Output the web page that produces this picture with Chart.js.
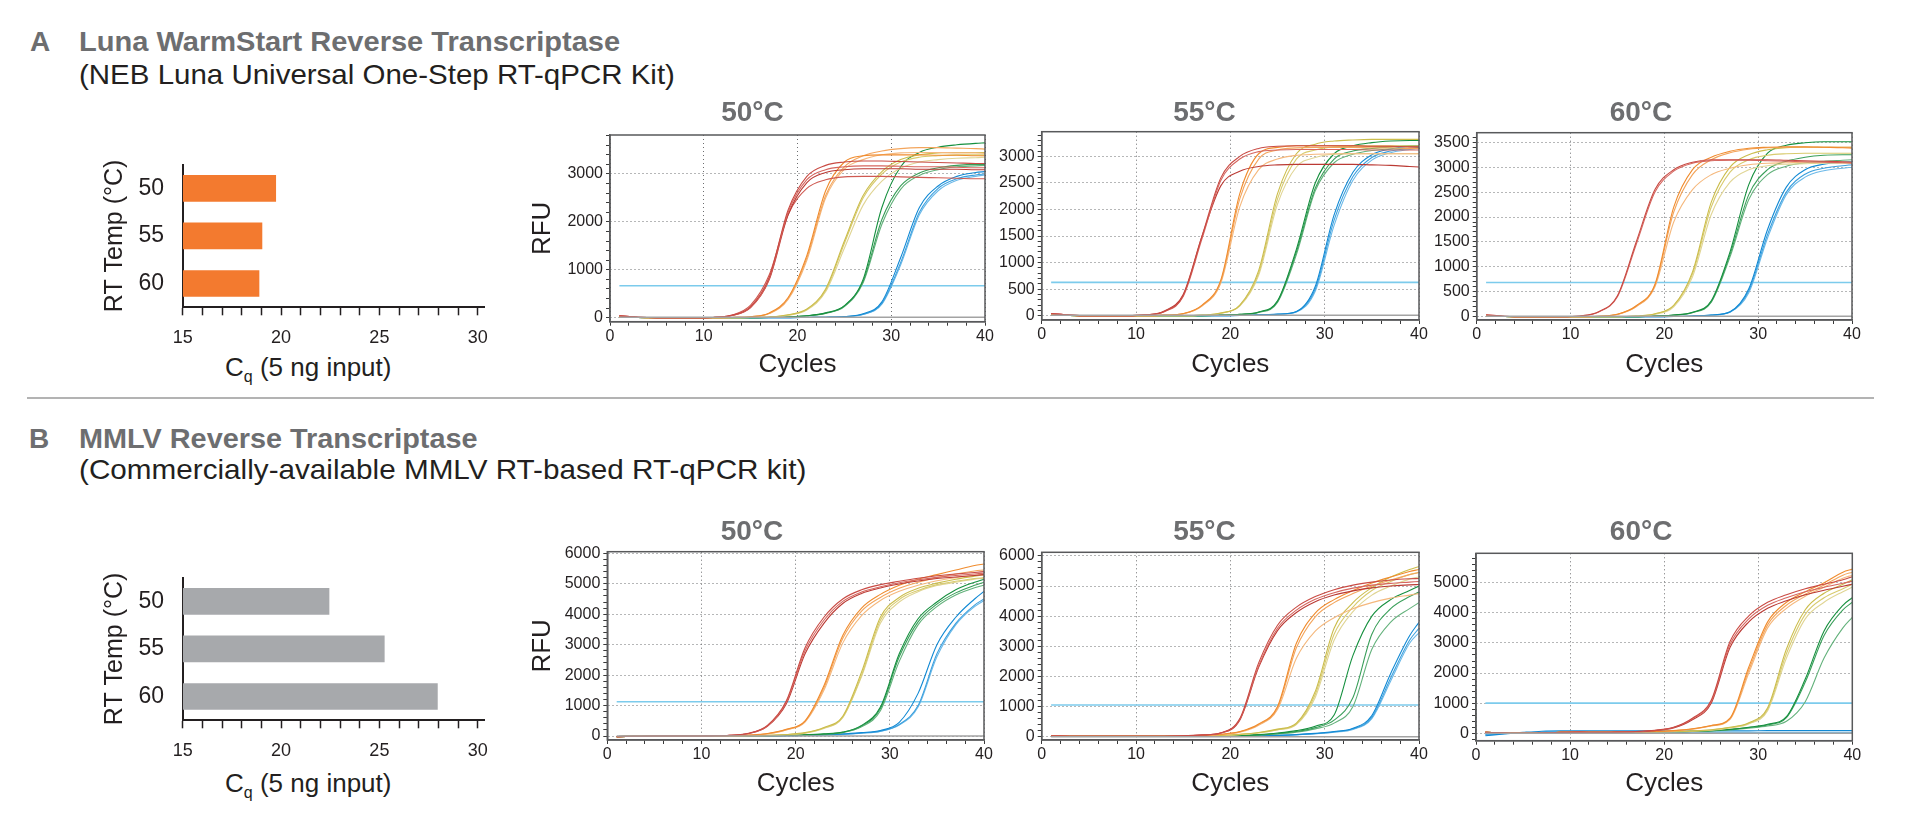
<!DOCTYPE html>
<html>
<head>
<meta charset="utf-8">
<script src="https://cdn.jsdelivr.net/npm/chart.js@4.4.1/dist/chart.umd.min.js"></script>
<style>
body { margin: 0; background: #fff; width: 1913px; height: 825px; position: relative; overflow: hidden;
       font-family: "Liberation Sans", Arial, Helvetica, sans-serif; color: #231f20; }
canvas { position: absolute; }
.hd { position: absolute; line-height: 1; white-space: nowrap; transform-origin: 0 0; font-size: 28px; }
.h1 { font-weight: bold; color: #6d6e70; }
.h2 { color: #231f20; }
.cq { position: absolute; font-size: 26px; line-height: 1; white-space: nowrap; color: #231f20; }
.cq .sub { font-size: 16px; position: relative; top: 6px; }
.rule { position: absolute; left: 27px; top: 397.3px; width: 1847px; height: 2.2px; background: #b3b3b3; }
</style>
</head>
<body>
<div class="hd h1" style="left:30px;top:27.8px">A</div>
<div class="hd h1" style="left:79px;top:27.8px;transform:scaleX(1.037)">Luna WarmStart Reverse Transcriptase</div>
<div class="hd h2" style="left:79px;top:61.3px;transform:scaleX(1.053)">(NEB Luna Universal One-Step RT-qPCR Kit)</div>
<div class="rule"></div>
<div class="hd h1" style="left:29px;top:424.6px">B</div>
<div class="hd h1" style="left:79px;top:424.6px;transform:scaleX(1.03)">MMLV Reverse Transcriptase</div>
<div class="hd h2" style="left:79px;top:456.3px;transform:scaleX(1.06)">(Commercially-available MMLV RT-based RT-qPCR kit)</div>
<div class="cq" style="left:225px;top:353.5px">C<span class="sub">q</span> (5 ng input)</div>
<div class="cq" style="left:225px;top:770px">C<span class="sub">q</span> (5 ng input)</div>

<script>
// ---- data ----
const RT_TEMPS = ['50', '55', '60'];
const CQ_LUNA = [19.73, 19.03, 18.88];
const CQ_MMLV = [22.44, 25.25, 27.95];
const PANEL_TITLES = ['50°C', '55°C', '60°C'];

// every amplification curve is sampled at these cycles
const CYCLES = [1, 3, 5, 7, 9, 11, 13, 15, 17, 19, 21, 23, 25, 27, 29, 31, 33, 35, 37, 39, 40];

const THRESH_A = [668, 628, 685];
const THRESH_B = [1125, 1054, 1000];
const NTC_A = [10, 10, 10];
const NTC_B = [0, 0, 0];

// A, 50°C
const A50_RED = [
    [40,10,0,0,0,5,50,230,850,2250,2950,3180,3250,3270,3270,3260,3250,3240,3230,3220,3220],
    [40,10,0,0,0,5,45,220,820,2200,2880,3090,3150,3170,3170,3160,3150,3150,3140,3130,3130],
    [40,10,0,0,0,5,45,210,800,2150,2820,3030,3090,3110,3110,3110,3100,3100,3100,3090,3090],
    [40,10,0,0,0,5,55,260,900,2150,2700,2880,2940,2950,2950,2940,2930,2920,2910,2900,2900]
];
const A50_ORANGE = [
    [20,5,0,0,0,0,5,20,100,420,1300,2650,3250,3380,3400,3400,3400,3390,3390,3380,3380],
    [20,5,0,0,0,0,5,20,90,400,1250,2550,3150,3380,3480,3530,3550,3550,3540,3530,3520],
    [20,5,0,0,0,0,5,18,85,380,1200,2500,3100,3300,3400,3440,3450,3450,3440,3440,3430]
];
const A50_YELLOW = [
    [20,5,0,0,0,0,0,5,15,60,180,600,1600,2550,3050,3300,3400,3440,3450,3450,3450],
    [20,5,0,0,0,0,0,5,15,55,170,570,1550,2500,3000,3250,3350,3380,3400,3400,3400],
    [20,5,0,0,0,0,0,5,15,50,160,540,1450,2350,2850,3120,3250,3300,3330,3340,3350]
];
const A50_GREEN = [
    [20,5,0,0,0,0,0,0,5,15,40,100,250,800,2300,3150,3450,3560,3610,3640,3650],
    [20,5,0,0,0,0,0,0,5,15,40,95,240,760,2050,2750,3020,3130,3180,3200,3200],
    [20,5,0,0,0,0,0,0,5,12,35,90,230,730,1950,2680,2970,3090,3150,3170,3180]
];
const A50_BLUE = [
    [20,5,0,0,0,0,0,0,0,0,5,10,25,80,330,1250,2300,2750,2950,3030,3050],
    [20,5,0,0,0,0,0,0,0,0,5,10,22,70,300,1150,2200,2700,2900,2980,3000],
    [20,5,0,0,0,0,0,0,0,0,5,10,20,65,280,1100,2150,2650,2870,2950,2980]
];

// A, 55°C
const A55_RED = [
    [40,10,0,0,0,15,80,380,1500,2600,3000,3150,3190,3200,3200,3200,3200,3190,3190,3180,3180],
    [40,10,0,0,0,15,75,360,1450,2550,2950,3090,3120,3130,3130,3130,3130,3120,3120,3120,3120],
    [40,10,0,0,0,15,90,400,1500,2450,2720,2810,2840,2850,2850,2850,2850,2840,2830,2810,2800]
];
const A55_ORANGE = [
    [20,5,0,0,0,0,10,40,200,680,2300,3050,3170,3200,3200,3200,3200,3190,3190,3180,3180],
    [20,5,0,0,0,0,10,38,190,650,2200,2950,3120,3160,3170,3170,3170,3160,3160,3150,3150],
    [20,5,0,0,0,0,10,35,180,620,2050,2750,2950,3020,3040,3050,3050,3050,3050,3050,3050]
];
const A55_YELLOW = [
    [20,5,0,0,0,0,0,0,10,50,200,850,2300,3050,3230,3290,3310,3320,3320,3320,3320],
    [20,5,0,0,0,0,0,0,10,48,190,800,2200,2950,3120,3180,3190,3200,3200,3200,3200],
    [20,5,0,0,0,0,0,0,10,45,180,760,2100,2800,2980,3040,3050,3050,3050,3050,3050]
];
const A55_GREEN = [
    [20,5,0,0,0,0,0,0,0,10,25,70,280,1250,2500,3050,3200,3260,3290,3300,3300],
    [20,5,0,0,0,0,0,0,0,10,25,65,265,1200,2400,2950,3100,3150,3180,3200,3200],
    [20,5,0,0,0,0,0,0,0,10,22,60,250,1150,2350,2880,3040,3110,3140,3150,3150]
];
const A55_BLUE = [
    [20,5,0,0,0,0,0,0,0,0,5,15,30,80,550,1900,2700,3030,3140,3190,3200],
    [20,5,0,0,0,0,0,0,0,0,5,15,28,75,500,1800,2620,2980,3100,3150,3170],
    [20,5,0,0,0,0,0,0,0,0,5,12,25,70,460,1700,2550,2930,3070,3130,3150]
];

// A, 60°C
const A60_RED = [
    [40,10,0,0,0,15,100,420,1500,2550,2950,3100,3150,3150,3150,3150,3140,3130,3120,3110,3100],
    [40,10,0,0,0,15,95,400,1450,2500,2920,3080,3130,3140,3140,3130,3120,3110,3100,3090,3080]
];
const A60_ORANGE = [
    [20,5,0,0,0,0,10,50,220,650,2200,2950,3200,3320,3380,3400,3410,3410,3400,3390,3380],
    [20,5,0,0,0,0,10,48,210,630,2100,2850,3150,3290,3360,3390,3400,3400,3400,3400,3400],
    [20,5,0,0,0,0,10,45,200,600,1900,2550,2850,2980,3050,3080,3090,3100,3100,3100,3100]
];
const A60_YELLOW = [
    [20,5,0,0,0,0,0,0,15,60,230,900,2300,3000,3250,3350,3390,3400,3400,3400,3400],
    [20,5,0,0,0,0,0,0,15,55,220,860,2200,2900,3150,3240,3270,3280,3280,3280,3280],
    [20,5,0,0,0,0,0,0,15,50,200,800,2050,2700,2950,3030,3060,3070,3080,3080,3080]
];
const A60_GREEN = [
    [20,5,0,0,0,0,0,0,0,15,35,90,320,1300,2650,3280,3440,3490,3510,3510,3510],
    [20,5,0,0,0,0,0,0,0,15,33,85,300,1250,2450,2950,3120,3200,3240,3250,3250],
    [20,5,0,0,0,0,0,0,0,12,30,80,290,1200,2350,2850,3020,3090,3120,3140,3150]
];
const A60_BLUE = [
    [20,5,0,0,0,0,0,0,0,0,5,15,35,100,560,1750,2600,2950,3060,3100,3110],
    [20,5,0,0,0,0,0,0,0,0,5,15,33,95,520,1650,2500,2860,2980,3030,3050],
    [20,5,0,0,0,0,0,0,0,0,5,12,30,90,480,1580,2450,2800,2930,2980,3000]
];

// B, 50°C
const B50_RED = [
    [-20,-10,0,0,0,5,25,90,350,1150,2900,3900,4500,4800,4970,5080,5180,5260,5320,5370,5400],
    [-20,-10,0,0,0,5,22,85,330,1100,2800,3800,4420,4730,4900,5030,5130,5210,5270,5320,5350],
    [-20,-10,0,0,0,5,20,80,320,1050,2700,3700,4350,4680,4860,4990,5090,5170,5220,5270,5300]
];
const B50_ORANGE = [
    [-20,-10,0,0,0,0,10,30,80,220,500,1650,3300,4200,4650,4950,5150,5300,5450,5600,5650],
    [-20,-10,0,0,0,0,10,28,75,210,480,1580,3200,4100,4550,4850,5050,5200,5320,5420,5450],
    [-20,-10,0,0,0,0,10,25,70,200,460,1500,3050,3950,4450,4750,4950,5100,5200,5280,5300]
];
const B50_YELLOW = [
    [-20,-10,0,0,0,0,0,10,20,50,110,280,650,2100,3900,4550,4850,5020,5150,5250,5300],
    [-20,-10,0,0,0,0,0,10,20,48,100,260,620,2000,3800,4480,4780,4970,5080,5170,5200],
    [-20,-10,0,0,0,0,0,10,18,45,95,250,600,1950,3700,4400,4740,4940,5050,5150,5180]
];
const B50_GREEN = [
    [-20,-10,0,0,0,0,0,0,10,20,40,70,130,350,950,2700,3850,4400,4800,5050,5150],
    [-20,-10,0,0,0,0,0,0,10,20,38,65,120,330,900,2600,3750,4330,4700,4950,5050],
    [-20,-10,0,0,0,0,0,0,10,18,35,60,110,300,830,2450,3650,4250,4630,4870,4950]
];
const B50_BLUE = [
    [-20,-10,0,0,0,0,0,0,0,10,20,40,70,110,180,450,1400,3000,3900,4500,4750],
    [-20,-10,0,0,0,0,0,0,0,10,18,35,60,100,160,380,1000,2700,3700,4300,4500],
    [-20,-10,0,0,0,0,0,0,0,10,18,32,55,95,150,360,950,2600,3650,4250,4450]
];

// B, 55°C
const B55_RED = [
    [20,15,10,10,10,10,15,30,60,130,600,2450,3700,4300,4650,4880,5030,5130,5200,5240,5250],
    [20,15,10,10,10,10,15,30,58,125,570,2350,3600,4200,4560,4780,4930,5030,5090,5130,5150],
    [20,15,10,10,10,10,15,28,55,120,550,2300,3520,4120,4480,4700,4840,4940,5000,5040,5050]
];
const B55_ORANGE = [
    [20,15,10,10,10,10,15,20,40,80,170,420,1000,3100,4100,4550,4850,5100,5300,5480,5550],
    [20,15,10,10,10,10,15,20,38,75,160,400,950,2950,3980,4450,4750,5000,5200,5380,5450],
    [20,15,10,10,10,10,15,20,35,70,150,380,900,2600,3500,3950,4250,4450,4600,4700,4750]
];
const B55_YELLOW = [
    [20,15,10,10,10,10,10,15,25,45,80,140,250,450,1500,3600,4450,4950,5300,5550,5650],
    [20,15,10,10,10,10,10,15,25,42,75,130,235,420,1400,3400,4300,4850,5150,5380,5450],
    [20,15,10,10,10,10,10,15,22,40,70,120,220,400,1300,3200,4150,4700,5000,5230,5300]
];
const B55_GREEN = [
    [20,15,10,10,10,10,10,10,15,25,40,70,120,200,350,720,2700,4000,4550,4850,5000],
    [20,15,10,10,10,10,10,10,15,22,35,60,100,170,300,550,1300,3400,4250,4650,4800],
    [20,15,10,10,10,10,10,10,15,20,32,55,90,150,260,450,1000,2900,3800,4250,4450]
];
const B55_BLUE = [
    [20,15,10,10,10,10,10,10,10,15,20,30,45,70,110,170,280,700,2100,3350,3800],
    [20,15,10,10,10,10,10,10,10,15,20,28,42,65,100,160,260,640,1950,3200,3600],
    [20,15,10,10,10,10,10,10,10,15,20,27,40,62,95,150,240,600,1850,3100,3450]
];

// B, 60°C
const B60_RED = [
    [30,10,0,10,30,40,30,40,60,100,200,500,1100,3050,3900,4350,4600,4800,4950,5100,5200],
    [30,10,0,10,30,40,30,40,55,95,190,480,1050,2950,3800,4250,4500,4700,4850,4980,5050],
    [30,10,0,10,30,40,30,40,50,90,180,450,1000,2850,3700,4150,4400,4600,4750,4880,4950]
];
const B60_ORANGE = [
    [30,10,0,10,30,40,30,40,50,60,90,150,260,500,2200,3700,4350,4700,5000,5350,5450],
    [30,10,0,10,30,40,30,40,50,60,85,140,250,480,2100,3600,4250,4620,4920,5250,5350],
    [30,10,0,10,30,40,30,40,50,58,80,135,240,460,2000,3500,4150,4550,4850,5150,5250]
];
const B60_YELLOW = [
    [30,10,0,10,30,40,30,40,45,50,60,80,120,200,350,850,2800,4100,4650,4950,5100],
    [30,10,0,10,30,40,30,40,45,50,58,75,110,190,330,800,2650,3950,4500,4800,4950],
    [30,10,0,10,30,40,30,40,45,48,55,70,100,180,310,750,2500,3800,4350,4700,4850]
];
const B60_GREEN = [
    [30,10,0,10,30,40,30,40,45,50,55,65,90,130,200,300,550,1800,3400,4250,4500],
    [30,10,0,10,30,40,30,40,45,50,55,62,85,125,190,280,520,1700,3250,4100,4350],
    [30,10,0,10,30,40,30,40,45,50,55,60,80,115,170,240,400,1050,2500,3500,3850]
];
const B60_BLUE = [
    [-80,-20,30,70,80,80,80,80,80,80,80,80,80,80,80,90,90,90,90,90,90],
    [-40,0,10,20,20,10,0,0,0,0,0,0,0,0,0,0,0,0,0,0,0],
    [-60,-10,20,40,50,50,40,30,20,20,20,20,20,20,20,20,20,20,20,20,20]
];

// ---- drawing ----
Chart.defaults.font.family = '"Liberation Sans", Arial, Helvetica, sans-serif';
Chart.defaults.color = '#231f20';

const SHADES = {
    red:    ['#c94b44', '#d6665f', '#bb3a34', '#cf5a52'],
    orange: ['#f08c2e', '#f3a55c', '#f5b87d'],
    yellow: ['#cbbd4c', '#d8cb6e', '#e0d594'],
    green:  ['#16903f', '#3a9f5a', '#64b27c'],
    blue:   ['#1189d4', '#3ba0de', '#6cb9e8']
};

function makeCanvas(left, top, w, h)
{
    let cv = document.createElement('canvas');
    cv.width = w;
    cv.height = h;
    cv.style.left = left + 'px';
    cv.style.top = top + 'px';
    document.body.appendChild(cv);
    return cv;
}

function pts(vals)
{
    return vals.map((v, i) => ({x: CYCLES[i], y: v}));
}

function flat(v)
{
    return [{x: 1, y: v}, {x: 40, y: v}];
}

const framePlugin = {
    id: 'frame',
    afterDatasetsDraw(chart) {
        const {ctx, chartArea: a} = chart;
        ctx.save();
        ctx.strokeStyle = '#58595b';
        ctx.lineWidth = 1.5;
        ctx.strokeRect(a.left, a.top, a.right - a.left, a.bottom - a.top);
        ctx.restore();
    }
};

function ampChart(title, groups, thresh, ntc, box, yr, showRfu)
{
    const cv = makeCanvas(box.cl, box.ct, box.cw, box.ch);
    let datasets = [{data: flat(ntc), borderColor: '#a3a3a3', borderWidth: 1.5}];
    groups.forEach(g => {
        g.curves.forEach((c, i) => {
            datasets.push({data: pts(c), borderColor: SHADES[g.color][i % SHADES[g.color].length], borderWidth: 1.1});
        });
    });
    datasets.push({data: flat(thresh), borderColor: '#7ccbec', borderWidth: 1.6});

    new Chart(cv, {
        type: 'line',
        data: {datasets: datasets},
        options: {
            responsive: false,
            animation: false,
            devicePixelRatio: 1,
            layout: {padding: {left: 0, top: 0, bottom: 0, right: box.cl + box.cw - box.r}},
            elements: {
                line: {cubicInterpolationMode: 'monotone', fill: false},
                point: {radius: 0}
            },
            plugins: {
                legend: {display: false},
                tooltip: {enabled: false},
                title: {
                    display: true,
                    text: title,
                    color: '#6d6e70',
                    font: {size: 28, weight: 'bold'},
                    padding: {top: 9, bottom: box.t - box.ct - 9 - 33.6}
                }
            },
            scales: {
                x: {
                    type: 'linear', min: 0, max: 40,
                    ticks: {stepSize: 2, autoSkip: false, maxRotation: 0, includeBounds: false, padding: 1,
                            font: {size: 16}, callback: v => (v % 10 === 0 ? v : '')},
                    grid: {color: c => (c.tick && c.tick.value % 10 === 0) ? '#6d6e70' : 'rgba(0,0,0,0)',
                           tickColor: '#3a3a3a', tickLength: 4, lineWidth: 1},
                    border: {color: '#58595b', width: 1.5, dash: [1, 3]},
                    title: {display: true, text: 'Cycles', font: {size: 26}, padding: {top: 0, bottom: 5}},
                    afterFit: s => { s.height = box.ct + box.ch - box.b; }
                },
                y: {
                    type: 'linear', min: yr.min, max: yr.max,
                    ticks: {autoSkip: false, padding: 3, font: {size: 16},
                            callback: v => (v % yr.major === 0 ? v : '')},
                    afterBuildTicks: s => {
                        let t = [];
                        for (let v = Math.ceil(yr.min / yr.minor) * yr.minor; v <= yr.max; v += yr.minor)
                            t.push({value: v});
                        s.ticks = t;
                    },
                    grid: {color: c => (c.tick && c.tick.value % yr.major === 0) ? '#6d6e70' : 'rgba(0,0,0,0)',
                           tickColor: '#3a3a3a', tickLength: 4, lineWidth: 1},
                    border: {color: '#58595b', width: 1.5, dash: [1, 3]},
                    title: {display: showRfu, text: 'RFU', font: {size: 26}, padding: {top: 7.4, bottom: 0}},
                    afterFit: s => { s.width = box.l - box.cl; }
                }
            }
        },
        plugins: [framePlugin]
    });
}

function barChart(top, vals, color)
{
    const cv = makeCanvas(98, top, 410, 230);
    new Chart(cv, {
        type: 'bar',
        data: {
            labels: RT_TEMPS,
            datasets: [{data: vals, backgroundColor: color, barThickness: 26, base: 15}]
        },
        options: {
            indexAxis: 'y',
            responsive: false,
            animation: false,
            devicePixelRatio: 1,
            layout: {padding: {left: 0, top: 16, bottom: 0, right: 23.4}},
            plugins: {legend: {display: false}, tooltip: {enabled: false}},
            scales: {
                x: {
                    type: 'linear', min: 15, max: 30.35,
                    ticks: {stepSize: 1, autoSkip: false, maxRotation: 0, includeBounds: false, padding: 12,
                            font: {size: 18}, callback: v => (v % 5 === 0 ? v : '')},
                    grid: {drawOnChartArea: false, tickLength: 8, tickColor: '#231f20', tickWidth: 1.5},
                    border: {color: '#231f20', width: 2},
                    afterFit: s => { s.height = 230 - 167.3; }
                },
                y: {
                    ticks: {font: {size: 23}, padding: 10.7},
                    grid: {display: false},
                    border: {color: '#231f20', width: 2},
                    title: {display: true, text: 'RT Temp (°C)', font: {size: 25}, padding: {top: 2, bottom: 0}},
                    afterFit: s => { s.width = 84.7; }
                }
            }
        }
    });
}

barChart(140, CQ_LUNA, '#f37a2f');
barChart(552.5, CQ_MMLV, '#a7a9ac');

ampChart(PANEL_TITLES[0],
    [{color: 'red', curves: A50_RED}, {color: 'orange', curves: A50_ORANGE}, {color: 'yellow', curves: A50_YELLOW},
     {color: 'green', curves: A50_GREEN}, {color: 'blue', curves: A50_BLUE}],
    THRESH_A[0], NTC_A[0],
    {cl: 520, ct: 87, cw: 530, ch: 298, l: 610, r: 985, t: 135, b: 321.7},
    {min: -84, max: 3814, major: 1000, minor: 200}, true);
ampChart(PANEL_TITLES[1],
    [{color: 'red', curves: A55_RED}, {color: 'orange', curves: A55_ORANGE}, {color: 'yellow', curves: A55_YELLOW},
     {color: 'green', curves: A55_GREEN}, {color: 'blue', curves: A55_BLUE}],
    THRESH_A[1], NTC_A[1],
    {cl: 990, ct: 87, cw: 456, ch: 298, l: 1041.7, r: 1419, t: 131.7, b: 320},
    {min: -81, max: 3465, major: 500, minor: 100}, false);
ampChart(PANEL_TITLES[2],
    [{color: 'red', curves: A60_RED}, {color: 'orange', curves: A60_ORANGE}, {color: 'yellow', curves: A60_YELLOW},
     {color: 'green', curves: A60_GREEN}, {color: 'blue', curves: A60_BLUE}],
    THRESH_A[2], NTC_A[2],
    {cl: 1430, ct: 87, cw: 444, ch: 298, l: 1476.7, r: 1852, t: 132.7, b: 320},
    {min: -66, max: 3692, major: 500, minor: 100}, false);

ampChart(PANEL_TITLES[0],
    [{color: 'red', curves: B50_RED}, {color: 'orange', curves: B50_ORANGE}, {color: 'yellow', curves: B50_YELLOW},
     {color: 'green', curves: B50_GREEN}, {color: 'blue', curves: B50_BLUE}],
    THRESH_B[0], NTC_B[0],
    {cl: 520, ct: 506, cw: 530, ch: 298, l: 607.3, r: 984, t: 551.7, b: 740},
    {min: -131, max: 6052, major: 1000, minor: 200}, true);
ampChart(PANEL_TITLES[1],
    [{color: 'red', curves: B55_RED}, {color: 'orange', curves: B55_ORANGE}, {color: 'yellow', curves: B55_YELLOW},
     {color: 'green', curves: B55_GREEN}, {color: 'blue', curves: B55_BLUE}],
    THRESH_B[1], NTC_B[1],
    {cl: 990, ct: 506, cw: 456, ch: 298, l: 1041.7, r: 1419, t: 552.3, b: 740},
    {min: -110, max: 6120, major: 1000, minor: 200}, false);
ampChart(PANEL_TITLES[2],
    [{color: 'red', curves: B60_RED}, {color: 'orange', curves: B60_ORANGE}, {color: 'yellow', curves: B60_YELLOW},
     {color: 'green', curves: B60_GREEN}, {color: 'blue', curves: B60_BLUE}],
    THRESH_B[2], NTC_B[2],
    {cl: 1430, ct: 506, cw: 444, ch: 298, l: 1476, r: 1852.3, t: 553.3, b: 740.7},
    {min: -246, max: 5976, major: 1000, minor: 200}, false);
</script>
</body>
</html>
